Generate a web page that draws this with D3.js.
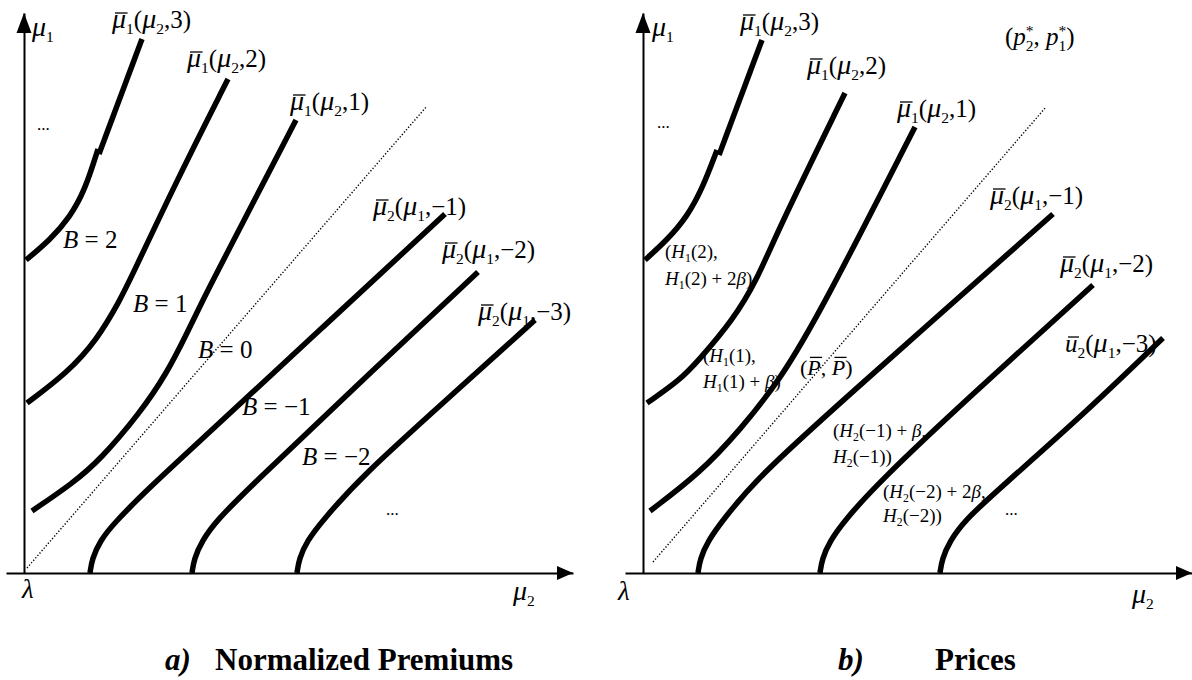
<!DOCTYPE html>
<html>
<head>
<meta charset="utf-8">
<script src="https://cdn.jsdelivr.net/npm/d3@7"></script>
<style>
  body { margin: 0; background: #fff; }
  text { font-family: "Liberation Serif", "Times New Roman", serif; fill: #000; }
</style>
</head>
<body>
<script>
// values are (mu2, mu1) in diagram units, origin at lambda
var premiumCurves = [
  [[2,313],[26,333],[46,356],[61,383],[74,424]],
  [[75,419],[118,534]],
  [[3,170],[43,200],[73,233],[96,273],[106,293],[153,393],[204,494]],
  [[8,62],[49,90],[76,113],[116,160],[143,200],[163,240],[179,273],[189,293],[272,453]],
  [[66,0],[68,14],[76,32],[90,50],[126,86],[176,132],[298,245],[421,359]],
  [[168,0],[170,14],[178,32],[192,52],[226,86],[328,183],[454,301]],
  [[273,0],[275,14],[283,32],[298,52],[339,98],[420,171],[511,253]]
];
var priceCurves = [
  [[2,313],[24,333],[44,356],[60,386],[74,423]],
  [[76,418],[119,533]],
  [[4,170],[37,193],[55,212],[90,253],[114,293],[135,343],[202,480]],
  [[7,62],[57,100],[97,143],[137,193],[177,260],[272,446]],
  [[55,0],[57,14],[65,32],[79,52],[115,96],[200,173],[410,359]],
  [[177,0],[179,14],[187,32],[201,52],[237,92],[323,173],[450,288]],
  [[297,0],[299,14],[307,32],[321,52],[357,85],[440,158],[520,235]]
];
var premiumDiagonal = [[3,5],[403,467]];
var priceDiagonal = [[10,11],[403,466]];

// labels: [mu2, mu1, markup, size]   * italic, _ sub, ^ sup, ! overbar
var premiumLabels = [
  [8,537,"*μ*_1",25],
  [88,545,"*!μ*_1(*μ*_2,3)",25],
  [163,506,"*!μ*_1(*μ*_2,2)",25],
  [266,463,"*!μ*_1(*μ*_2,1)",25],
  [349,358,"*!μ*_2(*μ*_1,−1)",25],
  [418,315,"*!μ*_2(*μ*_1,−2)",25],
  [454,253,"*!μ*_2(*μ*_1,−3)",25],
  [13,443,"...",17],
  [39,325,"*B* = 2",25],
  [109,261,"*B* = 1",25],
  [174,215,"*B* = 0",25],
  [218,158,"*B* = −1",25],
  [278,108,"*B* = −2",25],
  [362,58,"...",17],
  [-2,-25,"*λ*",27],
  [489,-27,"*μ*_2",25]
];
var priceLabels = [
  [9,537,"*μ*_1",25],
  [97,543,"*!μ*_1(*μ*_2,3)",25],
  [14,445,"...",17],
  [164,499,"*!μ*_1(*μ*_2,2)",25],
  [362,528,"(*p*_2^*, *p*_1^*)",25],
  [254,456,"*!μ*_1(*μ*_2,1)",25],
  [347,369,"*!μ*_2(*μ*_1,−1)",25],
  [417,301,"*!μ*_2(*μ*_1,−2)",25],
  [422,221,"*!u*_2(*μ*_1,−3)",25],
  [22,315,"(*H*_1(2),",19],
  [22,288,"*H*_1(2) + 2*β*)",19],
  [60,211,"(*H*_1(1),",19],
  [60,185,"*H*_1(1) + *β*)",19],
  [157,198,"(*!P*, *!P*)",22],
  [190,136,"(*H*_2(−1) + *β*,",19],
  [190,110,"*H*_2(−1))",19],
  [240,75,"(*H*_2(−2) + 2*β*,",19],
  [240,51,"*H*_2(−2))",19],
  [362,58,"...",17],
  [-25,-27,"*λ*",27],
  [489,-30,"*μ*_2",25]
];

var W = 1192, H = 680;
var y = d3.scaleLinear().domain([0, 560]).range([573, 13]);
var xL = d3.scaleLinear().domain([-18, 549]).range([6, 573]);
var xR = d3.scaleLinear().domain([-18, 549]).range([625, 1192]);

var svg = d3.select("body").append("svg")
    .attr("width", W)
    .attr("height", H);

function parse(str) {
  var segs = [], italic = false, bar = false, buf = "";
  function flush() { if (buf) { segs.push({t: buf, it: italic, pos: 0}); buf = ""; } }
  for (var i = 0; i < str.length; i++) {
    var c = str[i];
    if (c === "*") { flush(); italic = !italic; }
    else if (c === "_") { flush(); segs.push({t: str[++i], it: false, pos: 1}); }
    else if (c === "^") {
      flush();
      var back = segs.length && segs[segs.length - 1].pos === 1;
      segs.push({t: str[++i], it: false, pos: -1, back: back});
    }
    else if (c === "!") { flush(); bar = true; }
    else if (bar) { segs.push({t: c, it: italic, pos: 0, bar: true}); bar = false; }
    else buf += c;
  }
  flush();
  return segs;
}

function label(g, px, py, str, size) {
  var text = g.append("text").attr("x", px).attr("y", py).attr("font-size", size);
  var cur = 0, idx = 0, bars = [];
  parse(str).forEach(function(s) {
    var off = s.pos === 1 ? 0.22 * size : s.pos === -1 ? -0.35 * size : 0;
    var ts = text.append("tspan").text(s.t);
    if (off - cur !== 0) ts.attr("dy", off - cur);
    cur = off;
    if (s.pos) ts.attr("font-size", size * 0.62);
    else if (s.t === "μ") ts.attr("font-size", size * 1.12);
    if (s.it) ts.attr("font-style", "italic");
    if (s.back) ts.attr("dx", -size * 0.31);
    if (s.bar) bars.push({i: idx, up: s.t !== s.t.toLowerCase()});
    idx += s.t.length;
  });
  bars.forEach(function(b) {
    var n = text.node();
    var a = n.getStartPositionOfChar(b.i), e = n.getEndPositionOfChar(b.i);
    var h = b.up ? 0.8 : 0.6;
    g.append("line")
      .attr("x1", a.x + size * 0.12).attr("x2", e.x + size * 0.06)
      .attr("y1", py - size * h).attr("y2", py - size * h)
      .attr("stroke", "#000").attr("stroke-width", 1.3);
  });
}

function panel(x, curves, diagonal, labels) {
  var g = svg.append("g");
  var line = d3.line()
    .x(function(d) { return x(d[0]); })
    .y(function(d) { return y(d[1]); })
    .curve(d3.curveBasis);

  // axes without ticks
  g.append("g").attr("transform", "translate(0," + y(0) + ")")
    .call(d3.axisBottom(x).tickValues([]).tickSizeOuter(0))
    .select(".domain").attr("stroke-width", 2);
  g.append("g").attr("transform", "translate(" + x(0) + ",0)")
    .call(d3.axisLeft(y).tickValues([]).tickSizeOuter(0))
    .select(".domain").attr("stroke-width", 2);

  var tx = x.range()[1], ty = y(0);
  g.append("path")
    .attr("d", "M" + tx + "," + ty + "L" + (tx - 16) + "," + (ty - 7) + "L" + (tx - 16) + "," + (ty + 7) + "Z");
  var ax = x(0), ay = y.range()[1];
  g.append("path")
    .attr("d", "M" + ax + "," + ay + "L" + (ax - 7.5) + "," + (ay + 20) + "L" + (ax + 7.5) + "," + (ay + 20) + "Z");

  g.append("path")
    .attr("d", d3.line().x(function(d) { return x(d[0]); }).y(function(d) { return y(d[1]); })(diagonal))
    .attr("fill", "none")
    .attr("stroke", "#000")
    .attr("stroke-width", 1.4)
    .attr("stroke-dasharray", "1.3,1.9");

  g.selectAll(".curve")
    .data(curves)
    .enter()
    .append("path")
      .attr("class", "curve")
      .attr("d", line)
      .attr("fill", "none")
      .attr("stroke", "#000")
      .attr("stroke-width", 5.5);

  labels.forEach(function(l) { label(g, x(l[0]), y(l[1]), l[2], l[3]); });
}

panel(xL, premiumCurves, premiumDiagonal, premiumLabels);
panel(xR, priceCurves, priceDiagonal, priceLabels);

// captions
function caption(px, tag, title, titleX) {
  svg.append("text").attr("x", px).attr("y", 670)
    .attr("font-size", 31).attr("font-weight", "bold").attr("font-style", "italic")
    .text(tag);
  svg.append("text").attr("x", titleX).attr("y", 670)
    .attr("font-size", 31).attr("font-weight", "bold")
    .text(title);
}
caption(165, "a)", "Normalized Premiums", 215);
caption(838, "b)", "Prices", 935);
</script>
</body>
</html>
